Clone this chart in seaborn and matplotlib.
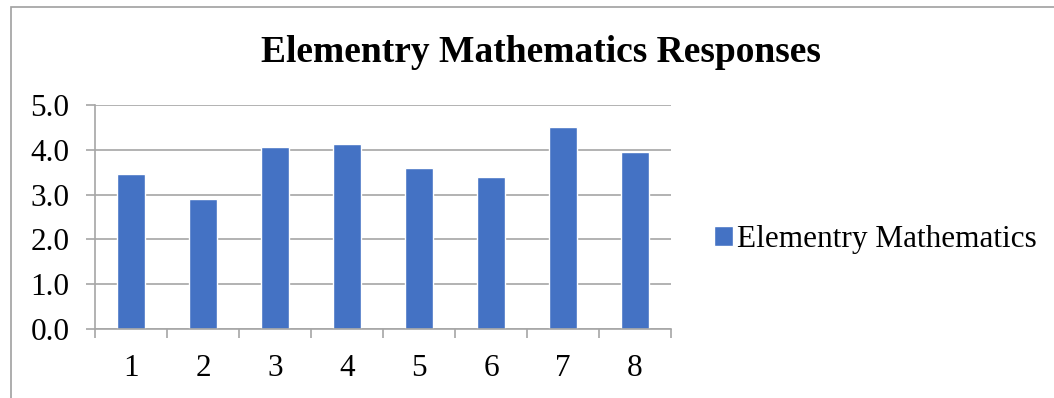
import matplotlib
matplotlib.use("Agg")
import matplotlib.pyplot as plt
import seaborn as sns
import pandas as pd
from matplotlib.patches import Rectangle
from matplotlib.ticker import FixedLocator

categories = ["1", "2", "3", "4", "5", "6", "7", "8"]
values = [3.45, 2.90, 4.07, 4.12, 3.60, 3.40, 4.50, 3.96]
series_name = "Elementry Mathematics"
title = "Elementry Mathematics Responses"
y_ticks = [0.0, 1.0, 2.0, 3.0, 4.0, 5.0]

sns.set_theme(style="white")
plt.rcParams["font.family"] = ["Liberation Serif", "DejaVu Serif"]
plt.rcParams["text.color"] = "black"
plt.rcParams["xtick.color"] = "black"
plt.rcParams["ytick.color"] = "black"

df = pd.DataFrame({"cat": categories, "val": values, "series": series_name})

fig = plt.figure(figsize=(10.54, 3.98), dpi=100)
ax = fig.add_axes([95/1054, 1-329/398, (671-95)/1054, (329-105)/398])

grid_c = "#A6A6A6"
sns.barplot(data=df, x="cat", y="val", hue="series", palette=["#4472C4"],
            width=0.4, ax=ax, saturation=1, legend=True)

ax.set_ylim(0, 5)
ax.set_xlim(-0.5, 7.5)
ax.set_yticks(y_ticks)
ax.set_yticklabels([f"{t:.1f}" for t in y_ticks])
ax.yaxis.grid(True, color=grid_c, linewidth=1.2)
ax.set_axisbelow(True)
ax.set_xlabel("")
ax.set_ylabel("")

for s in ["top", "right"]:
    ax.spines[s].set_visible(False)
for s in ["left", "bottom"]:
    ax.spines[s].set_color(grid_c)
    ax.spines[s].set_linewidth(1.2)

ax.tick_params(axis="y", which="major", length=6.5, width=1.2, color=grid_c,
               labelcolor="black", labelsize=22.5, pad=12, left=True)
ax.tick_params(axis="x", which="major", length=0, labelsize=22.5, pad=18,
               labelcolor="black")
ax.xaxis.set_minor_locator(FixedLocator([i - 0.5 for i in range(len(categories) + 1)]))
ax.tick_params(axis="x", which="minor", length=6.5, width=1.2, color=grid_c, bottom=True)

fig.text(541/1054, 1 - 53/398, title, fontsize=27, fontweight="bold",
         ha="center", va="center", color="black")

leg = ax.legend(loc="center left", bbox_to_anchor=(1.053, 0.40), frameon=False,
                fontsize=22.5, handlelength=0.62, handleheight=0.62, handletextpad=0.12,
                borderaxespad=0)
for t in leg.get_texts():
    t.set_color("black")

fig.patches.append(Rectangle((11/1054, -0.1), 1.2, 1 - 7/398 + 0.1,
                             transform=fig.transFigure, fill=False,
                             edgecolor="#A0A0A0", linewidth=1.2))

fig.savefig("out.png", dpi=100)
